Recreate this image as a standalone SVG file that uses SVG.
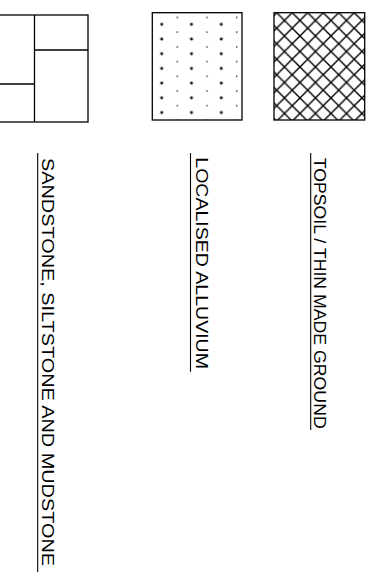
<svg xmlns="http://www.w3.org/2000/svg" width="374" height="575" viewBox="0 0 374 575">
<style>
.box{fill:none;stroke:#000;stroke-width:1.3}
.ln{stroke:#000;stroke-width:1.3;fill:none}
.lbl{font-family:"Liberation Sans",Arial,sans-serif;font-size:16.5px;fill:#000}
.ul{stroke:#000;stroke-width:1.1;fill:none}
</style>
<defs>
<pattern id="hatch" patternUnits="userSpaceOnUse" x="276.7" y="12.7" width="15.5" height="15.5">
<path d="M0,0 L15.5,15.5 M15.5,0 L0,15.5" stroke="#000" stroke-width="1.4" fill="none"/>
</pattern>
<pattern id="dots" patternUnits="userSpaceOnUse" x="161.7" y="24.3" width="29.8" height="14.7">
<circle cx="0.6" cy="0.6" r="0.8" fill="#111"/>
<circle cx="29.2" cy="0.6" r="0.8" fill="#111"/>
<circle cx="0.6" cy="14.1" r="0.8" fill="#111"/>
<circle cx="29.2" cy="14.1" r="0.8" fill="#111"/>
<circle cx="15.5" cy="7.95" r="0.8" fill="#111"/>
</pattern>
</defs>
<g id="sandstone">
<rect class="box" x="-5" y="15" width="93" height="107"/>
<path class="ln" d="M34.5,15 V122 M34.5,50 H88 M-5,84 H34.5"/>
<g transform="translate(41.5,158) rotate(90)">
<text class="lbl" x="0" y="0" textLength="408" lengthAdjust="spacingAndGlyphs">SANDSTONE, SILTSTONE AND MUDSTONE</text>
</g>
<path class="ul" d="M37.7,153 V572"/>
</g>
<g id="alluvium">
<rect x="152.3" y="12.7" width="89.7" height="107.3" fill="url(#dots)"/>
<rect class="box" x="152.3" y="12.7" width="89.7" height="107.3"/>
<g transform="translate(195.5,157.3) rotate(90)">
<text class="lbl" x="0" y="0" textLength="211.7" lengthAdjust="spacingAndGlyphs">LOCALISED ALLUVIUM</text>
</g>
<path class="ul" d="M190.5,153 V371.7"/>
</g>
<g id="topsoil">
<rect x="274" y="12.7" width="90.7" height="107.3" fill="url(#hatch)"/>
<rect class="box" x="274" y="12.7" width="90.7" height="107.3"/>
<g transform="translate(313.8,157.7) rotate(90)">
<text class="lbl" x="0" y="0" textLength="271" lengthAdjust="spacingAndGlyphs">TOPSOIL / THIN MADE GROUND</text>
</g>
<path class="ul" d="M310.7,153 V430"/>
</g>
<g id="connectors"/>
</svg>
